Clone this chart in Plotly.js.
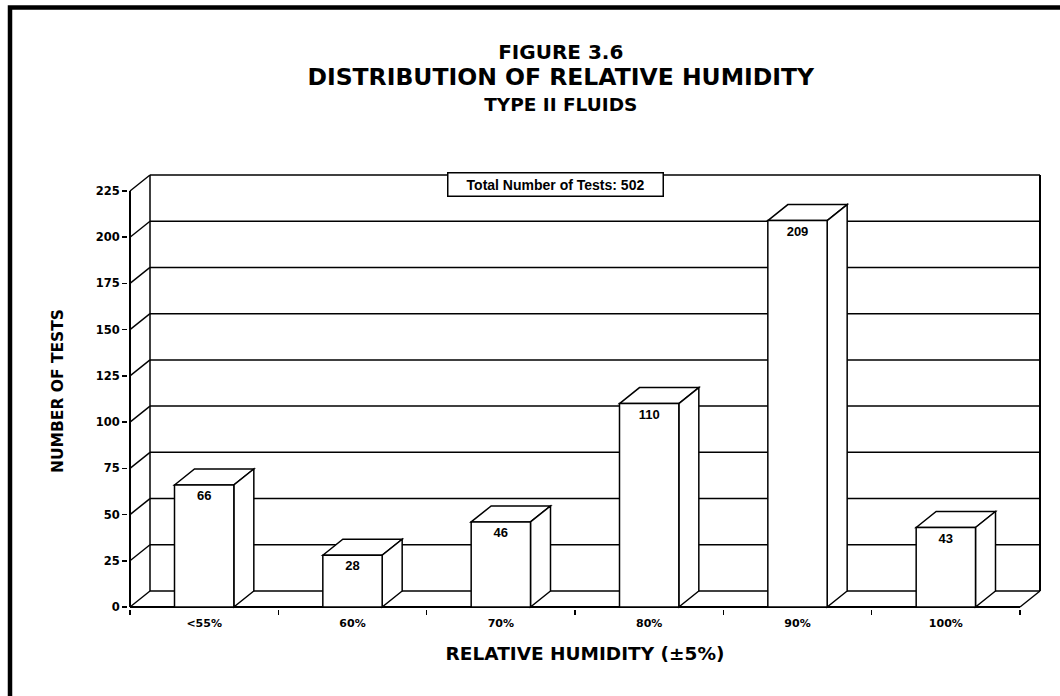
<!DOCTYPE html>
<html>
<head>
<meta charset="utf-8">
<script src="https://cdn.plot.ly/plotly-3.0.1.min.js"></script>
<style>html,body{margin:0;padding:0;background:#fff;}</style>
</head>
<body>
<div id="chart" style="width:1060px;height:696px;"></div>
<script>
// ---- data ----
const categories = ['&lt;55%', '60%', '70%', '80%', '90%', '100%'];
const counts = [66, 28, 46, 110, 209, 43];
const yTickVals = [0, 25, 50, 75, 100, 125, 150, 175, 200, 225];
const totalTests = 502;
const titleLines = ['FIGURE 3.6', 'DISTRIBUTION OF RELATIVE HUMIDITY', 'TYPE II FLUIDS'];
const xTitle = 'RELATIVE HUMIDITY (±5%)';
const yTitle = 'NUMBER OF TESTS';

// ---- geometry (pixels -> data units) ----
const pxPerCat = (1020 - 130) / 6;
const pxPerUnit = (607 - 191) / 225;
const DX = 20 / pxPerCat;        // depth offset in x
const DY = 16 / pxPerUnit;       // depth offset in y
const EX = 2 / pxPerCat, EY = 2 / pxPerUnit;
const BW = 0.4;
const n = categories.length;
const xs = categories.map((_, i) => i);
const yMax = yTickVals[yTickVals.length - 1];
const x0 = -0.5, x1 = n - 0.5;

const L = {color: '#000', width: 1.5};
const shapes = [];
function line(ax, ay, bx, by, w) {
  shapes.push({type: 'line', xref: 'x', yref: 'y', x0: ax, y0: ay, x1: bx, y1: by,
    line: {color: '#000', width: w || 1.5}, layer: 'below'});
}
// back wall gridlines + left wall diagonals
yTickVals.forEach(v => {
  line(x0 + DX, v + DY, x1 + DX, v + DY);
  line(x0, v, x0 + DX, v + DY);
});
// back wall verticals
line(x0 + DX, DY, x0 + DX, yMax + DY);
line(x1 + DX, DY, x1 + DX, yMax + DY, 2);
// floor front and right diagonal
line(x0, 0, x1, 0, 2);
line(x1, 0, x1 + DX, DY);
// front value axis
line(x0, 0, x0, yMax, 2);

// 3-D faces of each bar (top and right side)
counts.forEach((v, i) => {
  const a = i - BW / 2, b = i + BW / 2;
  shapes.push({type: 'path', xref: 'x', yref: 'y', layer: 'below', fillcolor: '#fff', line: L,
    path: `M${a},${v} L${a + DX},${v + DY} L${b + DX},${v + DY} L${b},${v} Z`});
  shapes.push({type: 'path', xref: 'x', yref: 'y', layer: 'below', fillcolor: '#fff', line: L,
    path: `M${b},0 L${b},${v} L${b + DX},${v + DY} L${b + DX},${DY} Z`});
});

// outer page frame (paper coords)
const plotL = 128, plotW = 914, plotB = 609, plotH = 436;
const px = p => (p - plotL) / plotW, py = p => (plotB - p) / plotH;
shapes.push({type: 'path', xref: 'paper', yref: 'paper', layer: 'above',
  path: `M${px(10)},${py(700)} L${px(10)},${py(7.5)} L${px(1062)},${py(7.5)}`,
  line: {color: '#000', width: 4.5}});

const trace = {
  type: 'bar', x: xs, y: counts, width: BW,
  marker: {color: '#fff', line: {color: '#000', width: 1.5}},
  text: counts.map(String), texttemplate: '%{y}',
  textposition: 'inside', insidetextanchor: 'end', textangle: 0, constraintext: 'none',
  textfont: {family: 'Liberation Sans, Arial, sans-serif', size: 13, color: '#000', weight: 'bold'},
  hoverinfo: 'skip'
};

const boundaries = [];
for (let i = 0; i <= n; i++) boundaries.push(i - 0.5);

const layout = {
  width: 1060, height: 696,
  paper_bgcolor: '#fff', plot_bgcolor: '#fff',
  margin: {l: 128, r: 18, t: 173, b: 87, pad: 0},
  showlegend: false, hovermode: false, bargap: 0,
  title: {
    text: '<span style="font-size:20px">' + titleLines[0] + '</span><br><span style="font-size:23.5px">' + titleLines[1] +
      '</span><br><span style="font-size:18.5px">' + titleLines[2] + '</span>',
    font: {family: 'DejaVu Sans, sans-serif', size: 20, color: '#000', weight: 'bold'},
    xref: 'container', x: 0.529, xanchor: 'center',
    yref: 'container', y: 0.915, yanchor: 'top'
  },
  xaxis: {
    range: [x0 - EX, x1 + DX + EX], fixedrange: true,
    tickmode: 'array', tickvals: xs, ticktext: categories, ticks: '',
    showgrid: false, zeroline: false, showline: false, automargin: false,
    ticklabelstandoff: 6,
    tickfont: {family: 'DejaVu Sans, sans-serif', size: 11, color: '#000', weight: 'bold'},
    minor: {tickmode: 'array', tickvals: boundaries, ticks: 'outside', ticklen: 5,
      tickwidth: 1.5, tickcolor: '#000', showgrid: false},
    title: {text: xTitle, standoff: 18,
      font: {family: 'DejaVu Sans, sans-serif', size: 18.5, color: '#000', weight: 'bold'}}
  },
  yaxis: {
    range: [-EY, yMax + DY + EY], fixedrange: true,
    tickmode: 'array', tickvals: yTickVals, ticks: 'outside', ticklen: 5, tickwidth: 1.5, tickcolor: '#000',
    showgrid: false, zeroline: false, showline: false, automargin: false,
    tickfont: {family: 'DejaVu Sans, sans-serif', size: 11.5, color: '#000', weight: 'bold'},
    title: {text: yTitle, standoff: 28,
      font: {family: 'DejaVu Sans, sans-serif', size: 15.5, color: '#000', weight: 'bold'}}
  },
  shapes: shapes,
  annotations: [{
    xref: 'paper', yref: 'paper', x: px(555), y: py(185), xanchor: 'center', yanchor: 'middle',
    text: 'Total Number of Tests: ' + totalTests, showarrow: false,
    font: {family: 'Liberation Sans, Arial, sans-serif', size: 14, color: '#000', weight: 'bold'},
    bgcolor: '#fff', bordercolor: '#000', borderwidth: 1.5, borderpad: 3, width: 208, height: 16
  }]
};

Plotly.newPlot('chart', [trace], layout, {staticPlot: true, displayModeBar: false});
</script>
</body>
</html>
